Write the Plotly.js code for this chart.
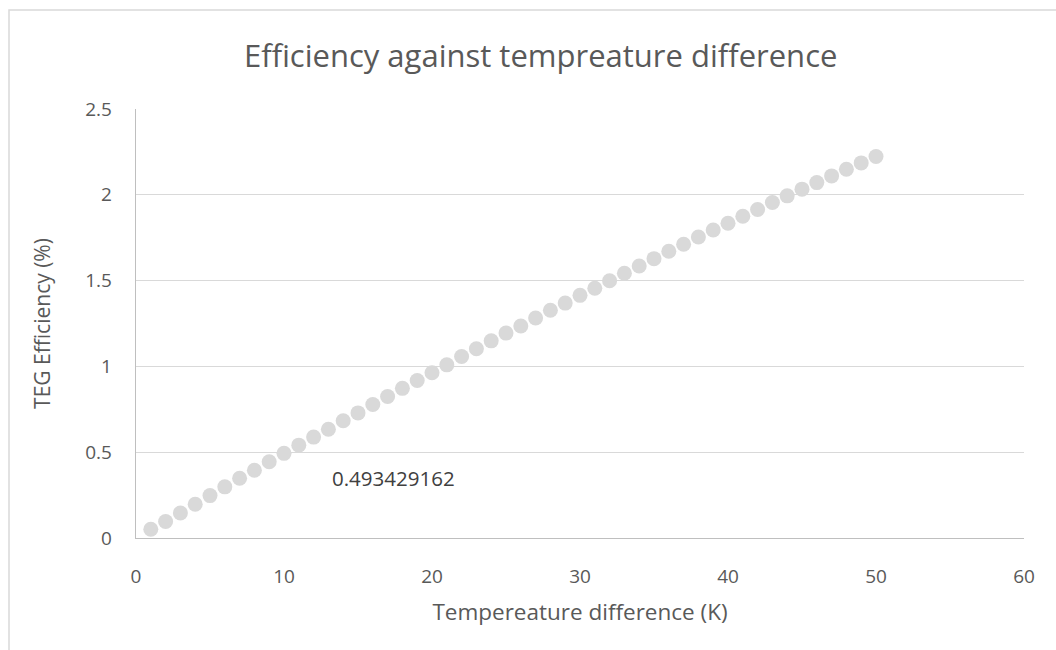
<!DOCTYPE html>
<html>
<head>
<meta charset="utf-8">
<script src="https://cdn.plot.ly/plotly-3.0.1.min.js"></script>
<style>
html,body{margin:0;padding:0;background:#fff;}
#chart{width:1056px;height:650px;}
</style>
</head>
<body>
<div id="chart"></div>
<script>
const tempDiff = [1,2,3,4,5,6,7,8,9,10,11,12,13,14,15,16,17,18,19,20,21,22,23,24,25,26,27,28,29,30,31,32,33,34,35,36,37,38,39,40,41,42,43,44,45,46,47,48,49,50];
const efficiency = [0.051,0.096,0.146,0.197,0.247,0.298,0.348,0.395,0.444,0.493429162,
  0.541,0.588,0.634,0.683,0.729,0.778,0.825,0.872,0.918,0.963,
  1.009,1.058,1.103,1.149,1.194,1.235,1.282,1.327,1.369,1.414,
  1.455,1.499,1.543,1.585,1.628,1.671,1.712,1.754,1.795,1.834,
  1.875,1.914,1.955,1.994,2.033,2.071,2.110,2.149,2.186,2.223];
const labelText = '0.493429162';
const labelPos = [17.4, 0.35];
const xTicks = [0,10,20,30,40,50,60];
const yTicks = [0,0.5,1,1.5,2,2.5];
const yTickText = ['0','0.5','1','1.5','2','2.5'];

const font = 'Open Sans, Noto Sans, sans-serif';
const txt = '#595959';

const trace = {
  x: tempDiff, y: efficiency, type: 'scatter', mode: 'markers',
  marker: {size: 15, color: '#d9d9d9'},
  hoverinfo: 'x+y', showlegend: false
};

const layout = {
  width: 1056, height: 650,
  margin: {l: 136, r: 32, t: 109, b: 112, pad: 0},
  paper_bgcolor: '#ffffff', plot_bgcolor: '#ffffff',
  font: {family: font, color: txt},
  title: {text: 'Efficiency against tempreature difference', font: {family: font, size: 31, color: txt},
    xref: 'container', yref: 'container', x: 0.512, xanchor: 'center', y: 0.913, yanchor: 'middle'},
  xaxis: {
    range: [0, 60], tickvals: xTicks, ticktext: xTicks.map(String),
    showgrid: false, zeroline: false, showline: true, linecolor: '#bfbfbf', linewidth: 1.3,
    ticks: '', ticklabelstandoff: 21,
    tickfont: {family: font, size: 19, color: txt},
    title: {text: 'Tempereature difference (K)', font: {family: font, size: 22.5, color: txt}, standoff: 16}
  },
  yaxis: {
    range: [0, 2.5], tickvals: yTicks, ticktext: yTickText,
    showgrid: true, gridcolor: '#d9d9d9', gridwidth: 1.3,
    zeroline: false, showline: true, linecolor: '#bfbfbf', linewidth: 1.3,
    ticks: '', ticklabelstandoff: 19,
    tickfont: {family: font, size: 19, color: txt},
    title: {text: 'TEG Efficiency (%)', font: {family: font, size: 21, color: txt}, standoff: 28}
  },
  annotations: [{
    x: labelPos[0], y: labelPos[1], xref: 'x', yref: 'y', text: labelText, showarrow: false,
    font: {family: font, size: 20.5, color: '#404040'}, xanchor: 'center', yanchor: 'middle'
  }],
  shapes: [{
    type: 'rect', xref: 'paper', yref: 'paper',
    x0: (9-136)/888, x1: (1070-136)/888, y0: -(670-538)/429, y1: 1 + (109-10)/429,
    line: {color: '#d9d9d9', width: 1.5}, fillcolor: 'rgba(0,0,0,0)', layer: 'below'
  }]
};

Plotly.newPlot('chart', [trace], layout, {displayModeBar: false, staticPlot: true});
</script>
</body>
</html>
